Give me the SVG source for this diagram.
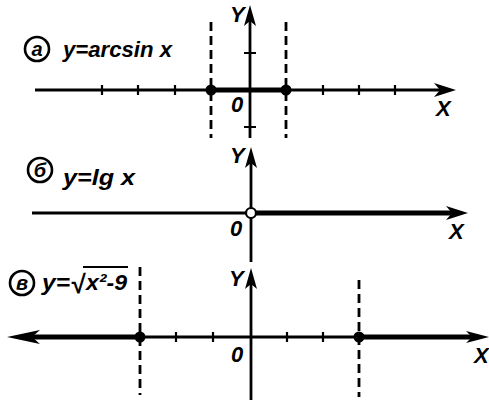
<svg xmlns="http://www.w3.org/2000/svg" width="489" height="400" viewBox="0 0 489 400">
<style>
.ax{stroke:#000;stroke-width:2.8;fill:none}
.thick{stroke:#000;stroke-width:5;fill:none}
.tick{stroke:#000;stroke-width:2.2;fill:none}
.dash{stroke:#000;stroke-width:2.8;stroke-dasharray:9 5;fill:none}
.ah{fill:#000;stroke:none}
.dot{fill:#000}
.t{font-family:"Liberation Sans",Arial,sans-serif;font-style:italic;font-weight:bold;fill:#000}
.lbl{font-size:22px}
.ax-l{font-size:22px}
.circ{stroke:#000;stroke-width:2.6;fill:none}
.cl{font-size:20px;text-anchor:middle}
</style>
<rect width="489" height="400" fill="#fff"/>

<g id="panel-a">
  <circle class="circ" cx="37" cy="49" r="12"/>
  <text class="t cl" x="37" y="56">а</text>
  <text class="t lbl" x="63" y="57" textLength="109" lengthAdjust="spacingAndGlyphs">y=arcsin x</text>
  <line class="dash" x1="211" y1="22" x2="211" y2="138"/>
  <line class="dash" x1="286" y1="22" x2="286" y2="138"/>
  <line class="ax" x1="35" y1="90" x2="445" y2="90"/>
  <line class="thick" x1="211" y1="90" x2="286" y2="90"/>
  <path class="ah" d="M456,90 L434,83 L440,90 L434,97 Z"/>
  <path class="tick" d="M102,85V95M138,85V95M175,85V95M323,85V95M359,85V95M395,85V95"/>
  <line class="ax" x1="250" y1="138" x2="250" y2="18"/>
  <path class="ah" d="M250,5 L244,26 L250,21 L256,26 Z"/>
  <path class="tick" d="M244,53H256M244,127H256"/>
  <circle class="dot" cx="211" cy="90" r="5.5"/>
  <circle class="dot" cx="286" cy="90" r="5.5"/>
  <text class="t ax-l" x="230" y="22">Y</text>
  <text class="t ax-l" x="231" y="112">0</text>
  <text class="t ax-l" x="436" y="116">X</text>
</g>

<g id="panel-b">
  <circle class="circ" cx="40" cy="170" r="12"/>
  <text class="t cl" x="40" y="177">б</text>
  <text class="t lbl" x="63" y="185" textLength="72" lengthAdjust="spacingAndGlyphs">y=lg x</text>
  <line class="ax" x1="32" y1="213" x2="246" y2="213"/>
  <line class="thick" x1="255" y1="213" x2="455" y2="213"/>
  <path class="ah" d="M468,213 L446,206 L452,213 L446,220 Z"/>
  <line class="ax" x1="251" y1="262" x2="251" y2="160"/>
  <path class="ah" d="M251,147 L245,168 L251,163 L257,168 Z"/>
  <circle cx="251" cy="213" r="5" fill="#fff" stroke="#000" stroke-width="2.2"/>
  <text class="t ax-l" x="230" y="163">Y</text>
  <text class="t ax-l" x="230" y="236">0</text>
  <text class="t ax-l" x="449" y="239">X</text>
</g>

<g id="panel-c">
  <circle class="circ" cx="22" cy="283" r="12"/>
  <text class="t cl" x="22" y="290">в</text>
  <text class="t lbl" x="42" y="290" textLength="28" lengthAdjust="spacingAndGlyphs">y=</text>
  <text class="t" x="70" y="293" font-size="26">√</text>
  <line stroke="#000" stroke-width="2.2" x1="83" y1="267" x2="128" y2="267"/>
  <text class="t lbl" x="86" y="290" textLength="41" lengthAdjust="spacingAndGlyphs">x²-9</text>
  <line class="dash" x1="140" y1="267" x2="140" y2="395"/>
  <line class="dash" x1="359" y1="280" x2="359" y2="397"/>
  <line class="ax" x1="140" y1="337" x2="359" y2="337"/>
  <line class="thick" x1="25" y1="337" x2="140" y2="337"/>
  <line class="thick" x1="359" y1="337" x2="478" y2="337"/>
  <path class="ah" d="M7,337 L40,330 L32,337 L40,344 Z"/>
  <path class="ah" d="M489,337 L466,331 L472,337 L466,343 Z"/>
  <path class="tick" d="M176,332V342M213,332V342M287,332V342M323,332V342"/>
  <line class="ax" x1="251" y1="400" x2="251" y2="280"/>
  <path class="ah" d="M251,268 L245,289 L251,284 L257,289 Z"/>
  <circle class="dot" cx="140" cy="337" r="5.5"/>
  <circle class="dot" cx="359" cy="337" r="5.5"/>
  <text class="t ax-l" x="229" y="286">Y</text>
  <text class="t ax-l" x="231" y="362">0</text>
  <text class="t ax-l" x="474" y="363">X</text>
</g>
</svg>
